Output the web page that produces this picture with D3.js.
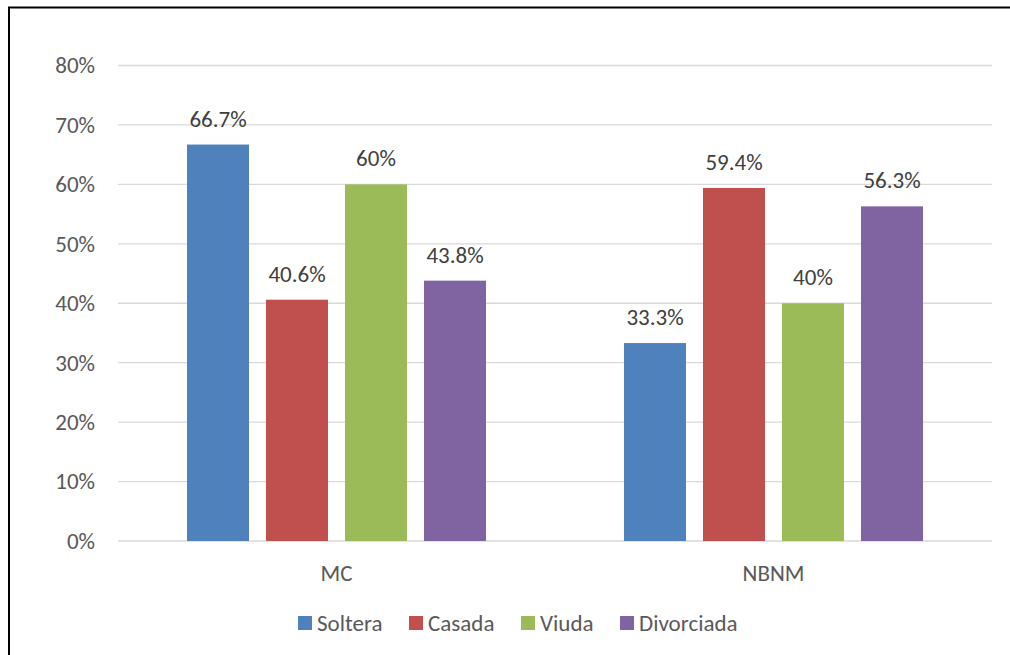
<!DOCTYPE html>
<html>
<head>
<meta charset="utf-8">
<script src="https://cdn.jsdelivr.net/npm/d3@7"></script>
<style>
  body { margin: 0; background: #fff; }
  svg { display: block; font-family: Carlito, Calibri, Lato, "Open Sans", sans-serif; }
</style>
</head>
<body>
<svg id="chart" width="1010" height="655"></svg>
<script>
// Share of respondents by marital status, per group
const categories = ["MC", "NBNM"];
const seriesNames = ["Soltera", "Casada", "Viuda", "Divorciada"];
const seriesColors = ["#4f81bd", "#c0504d", "#9bbb59", "#8064a2"];
const soltera = [66.7, 33.3];
const casada = [40.6, 59.4];
const viuda = [60, 40];
const divorciada = [43.8, 56.3];
const yTicks = [0, 10, 20, 30, 40, 50, 60, 70, 80];

const seriesValues = [soltera, casada, viuda, divorciada];
const FONT = "Carlito, Calibri, Lato, 'Open Sans', sans-serif";
const FS = "23px";

const svg = d3.select("#chart");

// chart frame
svg.append("rect")
  .attr("x", 9).attr("y", 7.5)
  .attr("width", 1010).attr("height", 660)
  .attr("fill", "none").attr("stroke", "#000").attr("stroke-width", 2);

const plot = { left: 118, right: 992, top: 65.5, bottom: 541 };

const x0 = d3.scaleBand().domain(categories)
  .range([plot.left, plot.right]).paddingInner(0).paddingOuter(0);
const x1 = d3.scaleBand().domain(seriesNames)
  .range([69, x0.bandwidth() - 69]).paddingInner(17 / 79).paddingOuter(0);
const y = d3.scaleLinear().domain([0, 80]).range([plot.bottom, plot.top]);

// gridlines
svg.append("g").selectAll("line").data(yTicks).join("line")
  .attr("x1", plot.left).attr("x2", plot.right)
  .attr("y1", d => y(d)).attr("y2", d => y(d))
  .attr("stroke", "#d9d9d9").attr("stroke-width", 1.3);

// y axis labels
const yAxis = d3.axisLeft(y).tickValues(yTicks).tickFormat(d => d + "%").tickSize(0).tickPadding(0);
const gy = svg.append("g").attr("transform", `translate(95,0)`).call(yAxis);
gy.select(".domain").remove();
gy.selectAll("text").attr("fill", "#595959").style("font-size", FS).style("font-family", FONT);

// x axis labels
const xAxis = d3.axisBottom(x0).tickSize(0).tickPadding(0);
const gx = svg.append("g").attr("transform", `translate(0,${plot.bottom + 24})`).call(xAxis);
gx.select(".domain").remove();
gx.selectAll("text").attr("fill", "#595959").style("font-size", FS).style("font-family", FONT);

// bars and value labels
const groups = svg.append("g").selectAll("g").data(categories).join("g")
  .attr("transform", c => `translate(${x0(c)},0)`);

groups.each(function(c, ci) {
  const g = d3.select(this);
  const rows = seriesNames.map((s, si) => ({ s, si, v: seriesValues[si][ci] }));
  g.selectAll("rect").data(rows).join("rect")
    .attr("x", d => x1(d.s)).attr("width", x1.bandwidth())
    .attr("y", d => y(d.v)).attr("height", d => y(0) - y(d.v))
    .attr("fill", d => seriesColors[d.si]);
  g.selectAll("text").data(rows).join("text")
    .attr("x", d => x1(d.s) + x1.bandwidth() / 2)
    .attr("y", d => y(d.v) - 18)
    .attr("text-anchor", "middle")
    .attr("fill", "#404040").style("font-size", FS)
    .text(d => d.v + "%");
});

// legend
const legendX = [298, 409, 521, 620];
const legend = svg.append("g").selectAll("g").data(seriesNames).join("g")
  .attr("transform", (d, i) => `translate(${legendX[i]},616)`);
legend.append("rect").attr("width", 14).attr("height", 14)
  .attr("fill", (d, i) => seriesColors[i]);
legend.append("text").attr("x", 19).attr("y", 15)
  .attr("fill", "#595959").style("font-size", FS).text(d => d);
</script>
</body>
</html>
